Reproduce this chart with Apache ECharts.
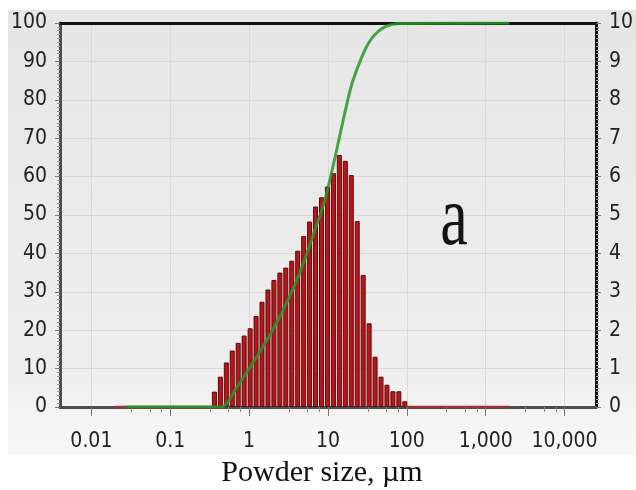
<!DOCTYPE html>
<html lang="en">
<head>
<meta charset="UTF-8">
<title>Powder size distribution</title>
<style>
    html, body { margin: 0; height: 100%; background: #fff; }
    #chart { width: 636px; height: 490px; }
</style>
</head>
<body>
<div id="chart"></div>
<script src="https://cdn.jsdelivr.net/npm/echarts@6.0.0/dist/echarts.min.js"></script>
<script>
// bin sizes (µm) and volume density (%)
var sizes = [0.363, 0.432, 0.514, 0.611, 0.727, 0.865, 1.03, 1.225, 1.457, 1.734,
    2.063, 2.454, 2.919, 3.473, 4.132, 4.916, 5.848, 6.958, 8.278, 9.849,
    11.72, 13.94, 16.58, 19.73, 23.48, 27.93, 33.23, 39.54, 47.03, 55.96,
    66.57, 79.19, 94.2];
var volume = [0.40, 0.79, 1.16, 1.47, 1.67, 1.86, 2.05, 2.37, 2.74, 3.06,
    3.31, 3.50, 3.63, 3.81, 4.07, 4.45, 4.83, 5.22, 5.46, 5.74,
    6.09, 6.56, 6.41, 6.04, 4.84, 3.44, 2.18, 1.31, 0.79, 0.58,
    0.41, 0.41, 0.15];

// cumulative curve (%), read point by point
var cumSizes = [0.028, 0.42, 0.484, 0.708, 1.038, 1.677, 2.708, 4.362, 7.045, 9.39,
    16.67, 20.2, 26.9, 35.9, 52.6, 84.9, 2000];
var cumValues = [0, 0, 0.3, 5.3, 10.5, 17.4, 25.3, 34.8, 47.0, 54.8,
    77.3, 84.3, 91.2, 96.0, 99.0, 99.9, 100];

// empty bins either side of the distribution
var emptyBins = [[0.02, 0], [0.36, 0], null, [94.2, 0], [2000, 0]];

var xMajor = [0.01, 0.1, 1, 10, 100, 1000, 10000];
var xMinor = [0.032, 0.055, 0.078, 0.32, 0.55, 0.78, 3.2, 5.5, 7.8,
    32, 55, 78, 320, 550, 780, 3200, 5500, 7800];

var axisFont = "'Liberation Sans Narrow', 'DejaVu Sans Condensed', 'Liberation Sans', sans-serif";

var chart = echarts.init(document.getElementById('chart'));

var option = {
    animation: false,
    grid: { left: 60, right: 32, top: 23, bottom: 83 },
    graphic: [
        {
            type: 'rect', z: -10, silent: true,
            shape: { x: 8, y: 10, width: 628, height: 445 },
            style: {
                fill: new echarts.graphic.LinearGradient(0, 0, 0, 1, [
                    { offset: 0, color: '#e6e6e6' },
                    { offset: 0.8, color: '#eeeeee' },
                    { offset: 1, color: '#f8f8f8' }
                ])
            }
        },
        {
            type: 'text', x: 454, y: 222, scaleY: 1.35, z: 5,
            style: { text: 'a', x: 0, y: 0, fontSize: 62, fontFamily: 'Liberation Serif', fill: '#151515', align: 'center', verticalAlign: 'middle' }
        },
        {
            type: 'text', x: 322, y: 473,
            style: { text: 'Powder size, µm', x: 0, y: 0, fontSize: 30, fontFamily: 'Liberation Serif', fill: '#111', align: 'center', verticalAlign: 'middle' }
        }
    ],
    xAxis: [
        {
            type: 'log', logBase: 10, min: 0.004, max: 25000,
            axisLine: { lineStyle: { color: '#4d4d4d', width: 3 } },
            axisTick: { customValues: xMajor, length: 9, lineStyle: { color: '#777', width: 1 } },
            axisLabel: {
                customValues: xMajor,
                margin: 24, fontSize: 21, fontFamily: axisFont, color: '#222',
                formatter: function (v) {
                    return v >= 1 ? Math.round(v).toLocaleString('en-US') : String(+v.toPrecision(1));
                }
            },
            splitLine: { show: true, lineStyle: { color: '#d9d9d9', width: 1 } },
            minorTick: { show: false }
        },
        {
            type: 'log', logBase: 10, min: 0.004, max: 25000, position: 'bottom',
            axisLine: { show: false },
            axisTick: { customValues: xMinor, length: 5, lineStyle: { color: '#888', width: 1 } },
            axisLabel: { show: false },
            splitLine: { show: false }
        },
        {
            type: 'log', logBase: 10, min: 0.004, max: 25000, position: 'top',
            axisLine: { lineStyle: { color: '#111', width: 3 } },
            axisTick: { show: false },
            axisLabel: { show: false },
            splitLine: { show: false }
        }
    ],
    yAxis: [
        {
            type: 'value', min: 0, max: 100, interval: 10, position: 'left',
            axisLine: { show: true, lineStyle: { color: '#4d4d4d', width: 3 } },
            axisTick: { show: true, length: 5, lineStyle: { color: '#777' } },
            minorTick: { show: true, splitNumber: 10, length: 3, lineStyle: { color: '#999' } },
            axisLabel: { margin: 13, fontSize: 21, fontFamily: axisFont, color: '#222' },
            splitLine: { lineStyle: { color: '#d9d9d9', width: 1 } }
        },
        {
            type: 'value', min: 0, max: 10, interval: 1, position: 'right',
            axisLine: { show: true, lineStyle: { color: '#111', width: 3 } },
            axisTick: { show: true, length: 5, lineStyle: { color: '#777' } },
            minorTick: { show: true, splitNumber: 10, length: 3, lineStyle: { color: '#999' } },
            axisLabel: { margin: 13, fontSize: 21, fontFamily: axisFont, color: '#222' },
            splitLine: { show: false }
        }
    ],
    series: [
        {
            name: 'Volume density',
            type: 'bar',
            yAxisIndex: 1,
            barWidth: 5,
            data: sizes.map(function (s, i) { return [s, volume[i]]; }),
            itemStyle: { color: '#bb151c', borderColor: '#5a0909', borderWidth: 1 },
            z: 2
        },
        {
            name: 'Empty bins',
            type: 'line',
            yAxisIndex: 1,
            data: emptyBins,
            symbol: 'none',
            lineStyle: { color: 'rgba(200,40,40,0.55)', width: 3 },
            z: 2
        },
        {
            name: 'Cumulative',
            type: 'line',
            data: cumSizes.map(function (s, i) { return [s, cumValues[i]]; }),
            smooth: 0.4,
            symbol: 'none',
            lineStyle: { color: 'rgba(40,150,40,0.85)', width: 3 },
            z: 4
        }
    ]
};

chart.setOption(option);
</script>
</body>
</html>
